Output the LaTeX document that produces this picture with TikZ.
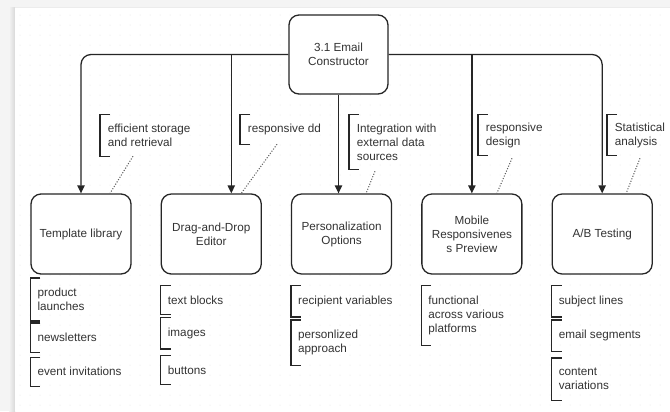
\documentclass[tikz,border=0pt]{standalone}
\usepackage{fontspec}
\setmainfont{Liberation Sans}
\usetikzlibrary{arrows.meta, positioning, calc}
\definecolor{InkGray}{HTML}{262626}
\definecolor{TextGray}{HTML}{333333}
\definecolor{NoteGray}{HTML}{5E5E5E}
\definecolor{PageGray}{HTML}{F4F4F4}
\definecolor{DotGray}{HTML}{DDDDDD}
\tikzset{
  module/.style={draw=InkGray, line width=1.1pt, rounded corners=3mm, fill=white, align=center, minimum width=30mm, minimum height=24mm, inner sep=2pt, font=\fontsize{10}{12}\selectfont, text=TextGray},
  note/.style={anchor=west, align=left, inner xsep=2.3mm, inner ysep=0pt, font=\fontsize{10}{12}\selectfont, text=TextGray},
  item/.style={align=left, inner xsep=2.1mm, inner ysep=3mm, font=\fontsize{10}{12}\selectfont, text=TextGray},
  bracket/.style={draw=InkGray, line width=1.1pt},
  arrow/.style={-{Triangle[length=2.4mm, width=2.2mm]}, draw=InkGray, line width=1.1pt, rounded corners=3mm},
  dotline/.style={draw=NoteGray, line width=0.9pt, dash pattern=on 0.9pt off 1.4pt}
}
\newcommand{\sidebracket}[1]{\draw[bracket] ([xshift=3mm]#1.north west) -| (#1.south west) -- ++(3mm,0);}

\begin{document}
\begin{tikzpicture}[x=0.3mm, y=-0.3mm]
\useasboundingbox (0,0) rectangle (670,411);
% page and dotted grid
\fill[PageGray] (0,0) rectangle (670,411);
\shade[left color=PageGray, right color=gray!30] (9,7) rectangle (15,411);
\fill[white] (15,7) rectangle (670,411);
\draw[gray!15] (15,7) -- (670,7);
\foreach \x in {20,30,...,660}
  \foreach \y in {15,25,...,405}
    \fill[DotGray] (\x,\y) circle[radius=0.15mm];

% modules
\node[module, minimum width=29.7mm, minimum height=23.7mm] (root) at (338.5,54.5) {3.1 Email\\Constructor};
\node[module] (tl) at (81,234) {Template library};
\node[module, right=8.7mm of tl] (dd) {Drag-and-Drop\\Editor};
\node[module, right=8.7mm of dd] (po) {Personalization\\Options};
\node[module, right=8.7mm of po] (mr) {Mobile\\Responsivenes\\s Preview};
\node[module, right=8.7mm of mr] (ab) {A/B Testing};

% connectors
\coordinate (ddin) at ($(dd.north)+(20,0)$);
\draw[arrow] (root.west) -| (tl.north);
\draw[arrow] (root.west -| ddin) -- (ddin);
\draw[arrow] (root.south) -- (root.south |- po.north);
\draw[arrow] (root.east -| mr.north) -- (mr.north);
\draw[arrow] (root.east) -| (ab.north);

% notes on the arrows
\node[note, minimum height=12.3mm] (n1) at (100,135.5) {efficient storage\\and retrieval};
\node[note, minimum height=8.7mm] (n2) at (240,129.5) {responsive dd};
\node[note, minimum height=16.2mm] (n3) at (349,142) {Integration with\\external data\\sources};
\node[note, minimum height=12mm] (n4) at (478,135) {responsive\\design};
\node[note, minimum height=12mm] (n5) at (607,135) {Statistical\\analysis};
\foreach \n in {n1,n2,n3,n4,n5} {\sidebracket{\n}}
\draw[dotline] ($(n1.south west)+(33,0)$) -- ($(tl.north)+(29,0)$);
\draw[dotline] ($(n2.south west)+(37,0)$) -- ($(dd.north)+(30,0)$);
\draw[dotline] ($(n3.south west)+(26,2)$) -- ($(po.north)+(24.5,0)$);
\draw[dotline] ($(n4.south west)+(34,3)$) -- ($(mr.north)+(25,0)$);
\draw[dotline] ($(n5.south west)+(33,3)$) -- ($(ab.north)+(24,0)$);

% item lists
\node[item, below=1mm of tl.south west, anchor=north west] (tl1) {product\\launches};
\node[item, below=0.6mm of tl1.south west, anchor=north west] (tl2) {newsletters};
\node[item, below=1.5mm of tl2.south west, anchor=north west] (tl3) {event invitations};

\node[item, below=3.3mm of dd.south west, anchor=north west] (dd1) {text blocks};
\node[item, below=0.9mm of dd1.south west, anchor=north west] (dd2) {images};
\node[item, below=2mm of dd2.south west, anchor=north west] (dd3) {buttons};

\node[item, below=3.3mm of po.south west, anchor=north west] (po1) {recipient variables};
\node[item, below=0.9mm of po1.south west, anchor=north west] (po2) {personlized\\approach};

\node[item, below=3.3mm of mr.south west, anchor=north west] (mr1) {functional\\across various\\platforms};

\node[item, below=3.3mm of ab.south west, anchor=north west] (ab1) {subject lines};
\node[item, below=0.9mm of ab1.south west, anchor=north west] (ab2) {email segments};
\node[item, below=2mm of ab2.south west, anchor=north west] (ab3) {content\\variations};

\foreach \n in {tl1,tl2,tl3,dd1,dd2,dd3,po1,po2,mr1,ab1,ab2,ab3} {\sidebracket{\n}}
\end{tikzpicture}
\end{document}
